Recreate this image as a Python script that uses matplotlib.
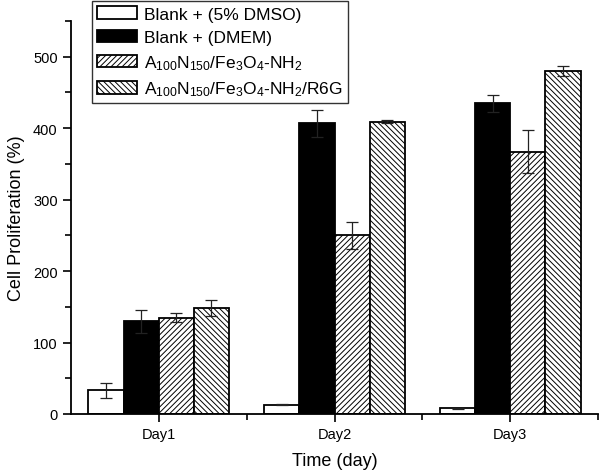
import numpy as np
import matplotlib
matplotlib.use("Agg")
import matplotlib.pyplot as plt
from matplotlib.ticker import MultipleLocator, FixedLocator

plt.rcParams['font.family'] = ['Liberation Sans', 'DejaVu Sans']
plt.rcParams['mathtext.fontset'] = 'custom'
plt.rcParams['mathtext.rm'] = 'Liberation Sans'
plt.rcParams['mathtext.it'] = 'Liberation Sans'
plt.rcParams['hatch.linewidth'] = 0.7

days = ['Day1', 'Day2', 'Day3']
labels = ['Blank + (5% DMSO)', 'Blank + (DMEM)',
          r'A$_{100}$N$_{150}$/Fe$_3$O$_4$-NH$_2$',
          r'A$_{100}$N$_{150}$/Fe$_3$O$_4$-NH$_2$/R6G']

blank_dmso = [33, 13, 8]
blank_dmso_err = [11, 1, 0.5]
blank_dmem = [130, 407, 435]
blank_dmem_err = [16, 19, 12]
fe3o4_nh2 = [135, 250, 367]
fe3o4_nh2_err = [6, 19, 30]
fe3o4_r6g = [148, 409, 480]
fe3o4_r6g_err = [11, 2, 7]

series = [blank_dmso, blank_dmem, fe3o4_nh2, fe3o4_r6g]
errors = [blank_dmso_err, blank_dmem_err, fe3o4_nh2_err, fe3o4_r6g_err]
colors = ['white', 'black', 'white', 'white']
hatches = [None, None, '//////', '\\\\\\\\\\\\']

fig = plt.figure(figsize=(6, 4.77), dpi=100)
ax = fig.add_axes([0.118, 0.13, 0.879, 0.824])

x = np.arange(1, len(days) + 1)
w = 0.2
for i, (vals, errs) in enumerate(zip(series, errors)):
    pos = x + (i - 1.5) * w
    ax.bar(pos, vals, width=w, color=colors[i], edgecolor='black',
           hatch=hatches[i], linewidth=1.3, label=labels[i], zorder=2)
    ax.errorbar(pos, vals, yerr=errs, fmt='none', ecolor='#222222',
                elinewidth=0.9, capsize=4, capthick=0.9, zorder=3)

ax.set_xlim(0.5, 3.5)
ax.set_ylim(0, 550)
ax.set_xticks(x)
ax.set_xticklabels(days)
ax.xaxis.set_minor_locator(FixedLocator([1.5, 2.5, 3.5]))
ax.yaxis.set_major_locator(MultipleLocator(100))
ax.yaxis.set_minor_locator(MultipleLocator(50))
ax.tick_params(which='both', direction='out', labelsize=10.5, width=1.2)
ax.tick_params(which='major', length=6)
ax.tick_params(which='minor', length=4)
for s in ['top', 'right']:
    ax.spines[s].set_visible(False)
for s in ['left', 'bottom']:
    ax.spines[s].set_linewidth(1.3)

ax.set_xlabel('Time (day)', fontsize=13, labelpad=8)
ax.set_ylabel('Cell Proliferation (%)', fontsize=13, labelpad=6)

leg = ax.legend(loc='upper left', bbox_to_anchor=(0.04, 1.05), fontsize=12.5,
                frameon=True, fancybox=False, edgecolor='black',
                handlelength=2.3, handleheight=0.75, borderpad=0.3,
                labelspacing=0.45, handletextpad=0.4, borderaxespad=0)
leg.get_frame().set_linewidth(1.0)

fig.savefig('out.png', dpi=100)
